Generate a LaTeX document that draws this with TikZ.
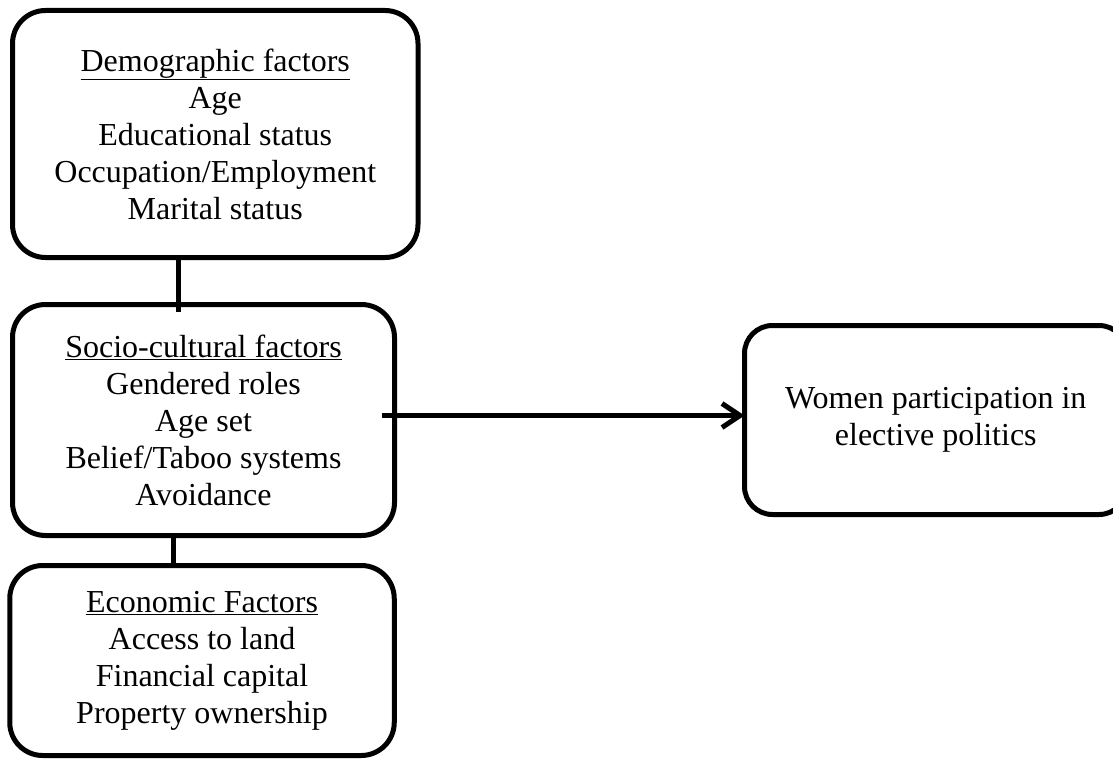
\documentclass[tikz,border=0pt]{standalone}
\usepackage{fontspec}
\setmainfont{Liberation Serif}
\usetikzlibrary{arrows.meta}
\begin{document}
\begin{tikzpicture}[x=1pt,y=-1pt,
  box/.style={draw, line width=5pt, rounded corners=33pt, inner sep=0pt, outer sep=0pt,
    align=center, font=\fontsize{32}{37}\selectfont},
  link/.style={line width=5pt},
  flow/.style={line width=5pt, -{Straight Barb[length=18pt,width=24pt]}}]
\useasboundingbox (0,0) rectangle (1113,760);
\node[box, minimum width=405.5pt, minimum height=247pt] (demo) at (215.25,134)
  {\underline{Demographic factors}\\Age\\Educational status\\Occupation/Employment\\Marital status};
\node[box, minimum width=382pt, minimum height=231pt] (socio) at (203.5,420)
  {\underline{Socio-cultural factors}\\Gendered roles\\Age set\\Belief/Taboo systems\\Avoidance};
\node[box, minimum width=384.5pt, minimum height=190pt] (econ) at (202,660.5)
  {\underline{Economic Factors}\\Access to land\\Financial capital\\Property ownership};
\node[box, rounded corners=28pt, minimum width=382.5pt, minimum height=189pt] (women) at (935.75,420)
  {Women participation in\\elective politics};
\coordinate (c1) at (178.5,312);
\coordinate (c2) at (173,0);
\coordinate (a1) at (382,415.5);
\draw[link] (demo.south -| c1) -- (c1);
\draw[link] (socio.south -| c2) -- (econ.north -| c2);
\draw[flow] (a1) -- (a1 -| women.west);
\end{tikzpicture}
\end{document}
